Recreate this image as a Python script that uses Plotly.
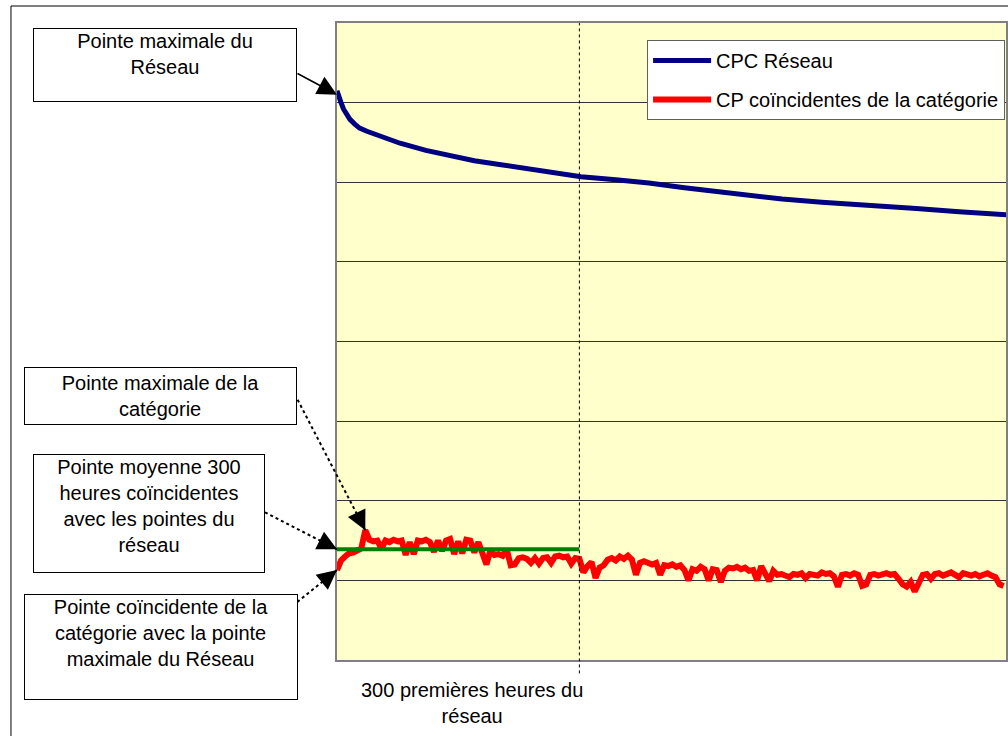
import plotly.graph_objects as go

# ---- data (hours along x, power in arbitrary units) ----
blue_hours = [0, 2, 5, 8, 12, 16, 22, 28, 37, 50, 78, 110, 140, 170, 203, 235, 265, 302,
              345, 386, 430, 470, 510, 551, 600, 650, 717, 770, 829]
blue_vals = [715, 707, 700, 692, 685, 679, 673, 668, 664, 659, 649, 640, 633, 627, 622, 617, 613, 607,
             603, 599, 593, 588, 584, 579, 575, 571, 567, 563, 559]

red_hours = list(range(0, 830, 5))
red_vals = [
    113, 125, 130, 134, 135, 137, 140, 163, 151, 149,   # 0-45
    150, 140, 150, 148, 151, 149, 150, 132, 148, 133,   # 50-95
    150, 149, 151, 148, 136, 150, 137, 150, 152, 133,   # 100-145
    149, 134, 151, 150, 135, 148, 133, 120, 138, 132,   # 150-195
    133, 131, 139, 119, 120, 128, 129, 127, 122, 128,   # 200-245
    121, 128, 129, 122, 130, 131, 129, 130, 121, 128,   # 250-295
    127, 110, 118, 123, 103, 116, 119, 126, 128, 125,   # 300-345
    130, 127, 131, 126, 107, 122, 124, 121, 120, 122,   # 350-395
    107, 119, 118, 120, 117, 119, 113, 100, 114, 112,   # 400-445
    117, 114, 100, 114, 113, 98, 112, 116, 115, 117,    # 450-495
    114, 116, 112, 113, 100, 118, 110, 99, 112, 107,    # 500-545
    108, 106, 104, 108, 107, 109, 103, 108, 107, 106,   # 550-595
    110, 108, 109, 105, 92, 107, 108, 106, 109, 107,    # 600-645
    93, 95, 107, 108, 106, 108, 109, 107, 108, 102,     # 650-695
    95, 92, 98, 86, 97, 107, 108, 102, 108, 109,        # 700-745
    106, 108, 110, 107, 104, 109, 108, 106, 108, 105,   # 750-795
    107, 109, 106, 104, 95, 93,                         # 800-825
]

green_hours = [0, 300]
green_vals = [139, 139]

marker_hour = 300
peak_idx = red_vals.index(max(red_vals))

X_MAX = 828
Y_MAX = 800
FONT = "Liberation Sans, Arial, sans-serif"

fig = go.Figure()
fig.add_trace(go.Scatter(x=blue_hours, y=blue_vals, mode="lines", name="CPC Réseau",
                         line=dict(color="#000080", width=5), legendgroup="a"))
fig.add_trace(go.Scatter(x=red_hours, y=red_vals, mode="lines", name="CP coïncidentes de la catégorie",
                         line=dict(color="#FF0000", width=6), legendgroup="b"))
fig.add_trace(go.Scatter(x=green_hours, y=green_vals, mode="lines", showlegend=False,
                         line=dict(color="#008000", width=4)))


def px(h):
    return h / X_MAX


def py(v):
    return v / Y_MAX


def connector(h, v, dx, dy):
    return dict(type="line", xref="paper", yref="paper", xsizemode="pixel", ysizemode="pixel",
                xanchor=px(h), yanchor=py(v), x0=0, y0=0, x1=dx, y1=dy,
                line=dict(color="black", width=2, dash="dot"))


# plot area spans x 337..1008 px (671 px wide), y 23..660 px (637 px tall)
PW = 671.0
PH = 637.0

shapes = [
    # outer chart frame
    dict(type="rect", xref="paper", yref="paper", x0=(10 - 337) / PW, x1=1.03, y0=-0.13,
         y1=(660 - 6) / PH, line=dict(color="black", width=1), fillcolor="rgba(0,0,0,0)", layer="below"),
    # 300-hour dotted marker
    dict(type="line", xref="x", yref="paper", x0=marker_hour, x1=marker_hour, y0=-0.021, y1=1,
         line=dict(color="black", width=1, dash="dot")),
    connector(red_hours[peak_idx], red_vals[peak_idx], -70, 135),
    connector(green_hours[0], green_vals[0], -74, 38),
    connector(red_hours[0], red_vals[0], -41, -33),
]

box = dict(xref="paper", yref="paper", showarrow=False, bgcolor="white", bordercolor="black",
           borderwidth=1, borderpad=1, xanchor="center", yanchor="top", align="center",
           valign="top", font=dict(family=FONT, size=20, color="black"))

arrow = dict(xref="x", yref="y", text="", showarrow=True, arrowhead=2, arrowsize=2.6,
             arrowwidth=1.5, arrowcolor="black", standoff=0)

annotations = [
    dict(box, text="Pointe maximale du<br>Réseau", x=(164 - 337) / PW, y=(660 - 28) / PH,
         width=260, height=70),
    dict(box, text="Pointe maximale de la<br>catégorie", x=(159.5 - 337) / PW, y=(660 - 367) / PH,
         width=269, height=54, valign="middle"),
    dict(box, text="Pointe moyenne 300<br>heures coïncidentes<br>avec les pointes du<br>réseau",
         x=(148 - 337) / PW, y=(660 - 454) / PH, width=228, height=115),
    dict(box, text="Pointe coïncidente de la<br>catégorie avec la pointe<br>maximale du Réseau",
         x=(160 - 337) / PW, y=(660 - 594) / PH, width=270, height=102),
    # x-axis caption
    dict(xref="x", yref="paper", x=marker_hour, y=(660 - 677) / PH, xanchor="right", yanchor="top",
         xshift=6, showarrow=False, align="center",
         text="300 premières heures du<br>réseau", font=dict(family=FONT, size=20, color="black")),
    # arrows
    dict(arrow, x=blue_hours[0], y=blue_vals[0], ax=-41, ay=-22, yshift=-4),
    dict(arrow, x=red_hours[peak_idx], y=red_vals[peak_idx], ax=-7.4, ay=-15),
    dict(arrow, x=green_hours[0], y=green_vals[0], ax=-15, ay=-7.6),
    dict(arrow, x=red_hours[0], y=red_vals[0], ax=-13.2, ay=10.6),
]

fig.update_layout(
    width=1008, height=736,
    margin=dict(l=337, r=0, t=23, b=76),
    paper_bgcolor="white", plot_bgcolor="#FFFFCC",
    font=dict(family=FONT, size=20, color="black"),
    showlegend=True,
    legend=dict(x=(648 - 337) / PW, y=(660 - 40) / PH, xanchor="left", yanchor="top", bgcolor="white",
                bordercolor="#606060", borderwidth=1, font=dict(family=FONT, size=20),
                tracegroupgap=10, itemwidth=58),
    xaxis=dict(range=[0, X_MAX], showgrid=False, zeroline=False, showticklabels=False, ticks="",
               showline=True, mirror=True, linecolor="#808080", linewidth=2),
    yaxis=dict(range=[0, Y_MAX], dtick=100, showgrid=True, gridcolor="#333333", gridwidth=1,
               zeroline=False, showticklabels=False, ticks="",
               showline=True, mirror=True, linecolor="#808080", linewidth=2),
    shapes=shapes,
    annotations=annotations,
)

fig.write_html("out.html", config={"displayModeBar": False},
               post_script="document.body.style.margin='0px';")
